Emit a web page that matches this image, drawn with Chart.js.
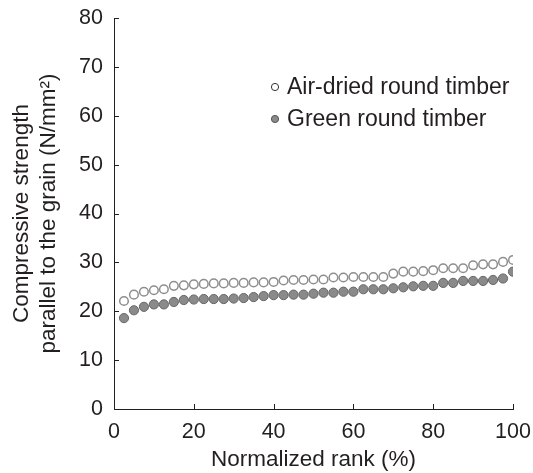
<!DOCTYPE html>
<html>
<head>
<meta charset="utf-8">
<script src="https://cdn.jsdelivr.net/npm/chart.js@4"></script>
<style>
  html, body { margin: 0; padding: 0; background: #fff; }
  #chart { display: block; }
</style>
</head>
<body>
<canvas id="chart" width="533" height="473"></canvas>
<script>
// Normalized rank (%) of each specimen
const rank = [2.5, 5, 7.5, 10, 12.5, 15, 17.5, 20, 22.5, 25,
    27.5, 30, 32.5, 35, 37.5, 40, 42.5, 45, 47.5, 50,
    52.5, 55, 57.5, 60, 62.5, 65, 67.5, 70, 72.5, 75,
    77.5, 80, 82.5, 85, 87.5, 90, 92.5, 95, 97.5, 100];

// Compressive strength (N/mm2)
const airDried = [22.1, 23.4, 24.0, 24.3, 24.5, 25.2, 25.3, 25.5, 25.6, 25.7,
    25.7, 25.8, 25.8, 25.9, 25.9, 26.0, 26.3, 26.4, 26.4, 26.5,
    26.5, 26.9, 26.9, 27.0, 27.0, 27.0, 27.0, 27.7, 28.1, 28.1,
    28.2, 28.4, 28.8, 28.8, 28.8, 29.4, 29.6, 29.6, 30.1, 30.5];
const green = [18.6, 20.2, 20.9, 21.4, 21.4, 21.9, 22.3, 22.4, 22.5, 22.5,
    22.5, 22.6, 22.7, 22.9, 23.1, 23.3, 23.3, 23.4, 23.4, 23.6,
    23.8, 23.8, 24.0, 24.0, 24.5, 24.5, 24.5, 24.7, 24.9, 25.1,
    25.2, 25.2, 25.8, 25.8, 26.2, 26.2, 26.2, 26.4, 26.7, 28.1];

const seriesLabels = ['Air-dried round timber', 'Green round timber'];
const xTicks = [0, 20, 40, 60, 80, 100];
const yTicks = [0, 10, 20, 30, 40, 50, 60, 70, 80];

const FONT = "'Liberation Sans', Arial, Helvetica, sans-serif";
const INK = '#231f20';

const toPoints = (ys) => ys.map((y, i) => ({ x: rank[i], y: y }));

// inward tick marks on both axes
const innerTicks = {
    id: 'innerTicks',
    afterDraw(chart) {
        const { ctx, chartArea, scales } = chart;
        ctx.save();
        ctx.strokeStyle = INK;
        ctx.lineWidth = 1;
        ctx.beginPath();
        xTicks.forEach(v => {
            const px = Math.round(scales.x.getPixelForValue(v)) + 0.5;
            ctx.moveTo(px, chartArea.bottom);
            ctx.lineTo(px, chartArea.bottom - 5);
        });
        yTicks.forEach(v => {
            const py = Math.round(scales.y.getPixelForValue(v)) + 0.5;
            ctx.moveTo(chartArea.left, py);
            ctx.lineTo(chartArea.left + 5, py);
        });
        ctx.stroke();
        ctx.restore();
    }
};

// legend drawn inside the plot, upper right
const innerLegend = {
    id: 'innerLegend',
    afterDraw(chart) {
        const { ctx } = chart;
        const rows = [{ y: 87, ds: chart.data.datasets[0] }, { y: 119, ds: chart.data.datasets[1] }];
        ctx.save();
        rows.forEach(r => {
            ctx.beginPath();
            ctx.arc(275, r.y, 3.6, 0, Math.PI * 2);
            ctx.fillStyle = r.ds.backgroundColor;
            ctx.fill();
            ctx.lineWidth = 1;
            ctx.strokeStyle = r.ds === chart.data.datasets[0] ? '#333' : '#555';
            ctx.stroke();
            ctx.fillStyle = INK;
            ctx.font = '23px ' + FONT;
            ctx.textBaseline = 'middle';
            ctx.textAlign = 'left';
            ctx.fillText(r.ds.label, 287, r.y + 1);
        });
        ctx.restore();
    }
};

const ctx = document.getElementById('chart').getContext('2d');
new Chart(ctx, {
    type: 'scatter',
    data: {
        datasets: [{
            label: seriesLabels[0],
            data: toPoints(airDried),
            backgroundColor: '#ffffff',
            borderColor: '#8e8e8e',
            borderWidth: 1.5,
            pointRadius: 4.3
        }, {
            label: seriesLabels[1],
            data: toPoints(green),
            backgroundColor: '#8a8a8a',
            borderColor: '#666666',
            borderWidth: 1,
            pointRadius: 4.6
        }]
    },
    options: {
        responsive: false,
        animation: false,
        layout: { padding: { top: 18, right: 20, left: 0, bottom: 0 } },
        plugins: {
            legend: { display: false },
            tooltip: { enabled: false }
        },
        scales: {
            x: {
                type: 'linear',
                min: 0,
                max: 100,
                afterFit(scale) {
                    scale.height = 64;
                    scale.paddingLeft = 0;
                    scale.paddingRight = 0;
                },
                afterBuildTicks(scale) { scale.ticks = xTicks.map(v => ({ value: v })); },
                grid: { display: false, drawTicks: false },
                border: { display: true, color: INK, width: 1 },
                ticks: {
                    padding: 10,
                    color: INK,
                    font: { family: FONT, size: 21.5 },
                    maxRotation: 0
                },
                title: {
                    display: true,
                    text: 'Normalized rank (%)',
                    color: INK,
                    font: { family: FONT, size: 22.5, lineHeight: 1.2 },
                    padding: { top: 0, bottom: 0 }
                }
            },
            y: {
                type: 'linear',
                min: 0,
                max: 80,
                afterFit(scale) {
                    scale.width = 114;
                    scale.paddingTop = 0;
                    scale.paddingBottom = 0;
                },
                afterBuildTicks(scale) { scale.ticks = yTicks.map(v => ({ value: v })); },
                grid: { display: false, drawTicks: false },
                border: { display: true, color: INK, width: 1 },
                ticks: {
                    padding: 11,
                    color: INK,
                    font: { family: FONT, size: 21.5 }
                },
                title: {
                    display: true,
                    text: ['Compressive strength', 'parallel to the grain (N/mm\u00b2)'],
                    color: INK,
                    font: { family: FONT, size: 22.5, lineHeight: 1.2 },
                    padding: { top: 8, bottom: 0 }
                }
            }
        }
    },
    plugins: [innerTicks, innerLegend]
});
</script>
</body>
</html>
